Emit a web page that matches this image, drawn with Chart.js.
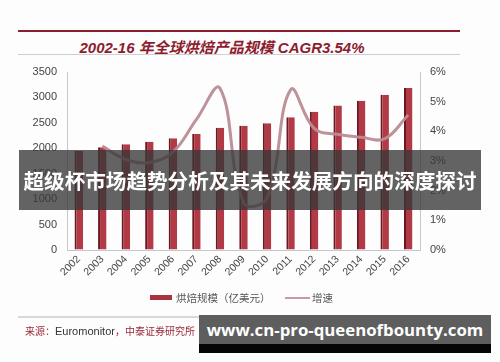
<!DOCTYPE html>
<html>
<head>
<meta charset="utf-8">
<script src="https://cdn.jsdelivr.net/npm/chart.js@4.4.1/dist/chart.umd.min.js"></script>
<style>
  html, body { margin: 0; padding: 0; background: #fff; }
  #page { position: relative; width: 500px; height: 362px; overflow: hidden; background: #fdfdfd; font-family: "Liberation Sans", "Noto Sans CJK SC", sans-serif; }
  #chartWrap { position: absolute; left: 0; top: 0; width: 500px; height: 362px; }
  .rule { position: absolute; left: 18px; width: 442px; }
  #title { position: absolute; left: 0; width: 444px; top: 36px; text-align: center; font: italic bold 15px "Liberation Sans", "Noto Sans CJK SC", sans-serif; color: #8c1c2e; white-space: nowrap; }
  #legend { position: absolute; top: 290px; left: 150px; font: 10.5px "Noto Sans CJK SC", sans-serif; color: #555; white-space: nowrap; }
  #legend span { position: absolute; top: 0; }
  #source { position: absolute; left: 25px; top: 323px; font: 10px "Noto Sans CJK SC", sans-serif; color: #9a2a3a; white-space: nowrap; }
  #source b { font: 11px "Liberation Sans", sans-serif; color: #333; font-weight: normal; }
  #banner { position: absolute; left: 19px; top: 150px; width: 462px; height: 60px; background: rgba(55, 55, 55, 0.78); color: #fff; font: bold 20.6px "Noto Sans CJK SC", sans-serif; text-align: center; line-height: 60px; white-space: nowrap; }
  #mark { position: absolute; left: 199px; top: 315px; width: 292px; height: 29px; background: #5e5e5e; color: #fff; font: bold 16.8px "Open Sans", "DejaVu Sans", sans-serif; text-align: center; line-height: 29px; white-space: nowrap; }
  #markBase { position: absolute; left: 199px; top: 344px; width: 292px; height: 9px; background: #050505; }
</style>
</head>
<body>
<div id="page">
  <div class="rule" style="top:30px;height:2px;background:#8c1c2e;"></div>
  <div id="title">2002-16 年全球烘焙产品规模 CAGR3.54%</div>
  <div class="rule" style="top:54px;height:1px;background:#cfcfcf;"></div>
  <div id="chartWrap"><canvas id="chart" width="500" height="362"></canvas></div>
  <div id="legend">
    <span style="left:0;top:5px;width:22px;height:5px;background:#a8323e;"></span>
    <span style="left:26px;">烘焙规模（亿美元）</span>
    <span style="left:135px;top:7px;width:25px;height:2px;background:#c99aa4;"></span>
    <span style="left:162px;">增速</span>
  </div>
  <div class="rule" style="top:316px;width:385px;height:2px;background:#d8d8d8;"></div>
  <div id="source">来源：<b>Euromonitor</b>，中泰证券研究所</div>
  <div id="banner">超级杯市场趋势分析及其未来发展方向的深度探讨</div>
  <div id="mark">www.cn-pro-queenofbounty.com</div>
  <div id="markBase"></div>
</div>
<script>
// data
const years = ["2002", "2003", "2004", "2005", "2006", "2007", "2008", "2009",
  "2010", "2011", "2012", "2013", "2014", "2015", "2016"];
const marketSize = [1950, 2020, 2080, 2130, 2195, 2280, 2405, 2445,
  2490, 2610, 2720, 2840, 2935, 3055, 3185];
const growth = [null, 3.5, 3.05, 2.95, 3.3, 4.4, 5.45, 1.6,
  1.75, 5.4, 4.1, 3.9, 3.8, 3.75, 4.55];
const leftTicks = [0, 500, 1000, 1500, 2000, 2500, 3000, 3500];
const rightTicks = [0, 1, 2, 3, 4, 5, 6];

const tickFont = { family: "Liberation Sans", size: 11 };
const tickColor = "#444";

new Chart(document.getElementById("chart"), {
  data: {
    labels: years,
    datasets: [
      {
        type: "line",
        label: "增速",
        data: growth,
        yAxisID: "y2",
        borderColor: "rgba(185, 140, 150, 0.95)",
        borderWidth: 3,
        tension: 0.4,
        pointRadius: 0,
        fill: false,
        order: 0,
      },
      {
        type: "bar",
        label: "烘焙规模（亿美元）",
        data: marketSize,
        yAxisID: "y",
        backgroundColor: "#b13a46",
        borderColor: "#6c1820",
        borderWidth: { left: 2, right: 0, top: 0, bottom: 0 },
        borderSkipped: false,
        categoryPercentage: 1,
        barPercentage: 0.36,
        order: 1,
      },
    ],
  },
  options: {
    responsive: false,
    animation: false,
    layout: { padding: { top: 72, left: 0, right: 0, bottom: 0 } },
    plugins: { legend: { display: false }, tooltip: { enabled: false } },
    scales: {
      x: {
        grid: { display: false, drawTicks: false },
        border: { color: "#c8c8c8" },
        ticks: { color: tickColor, font: { family: "Liberation Sans", size: 10.5 }, minRotation: 45, maxRotation: 45, padding: 3 },
        afterFit: (s) => { s.height = 112; },
      },
      y: {
        position: "left",
        min: 0,
        max: 3500,
        afterBuildTicks: (s) => { s.ticks = leftTicks.map((v) => ({ value: v })); },
        grid: { drawOnChartArea: false, drawTicks: false },
        border: { color: "#c8c8c8" },
        ticks: { color: tickColor, font: tickFont, padding: 10, callback: (v) => String(v) },
        afterFit: (s) => { s.width = 67; },
      },
      y2: {
        position: "right",
        min: 0,
        max: 6,
        afterBuildTicks: (s) => { s.ticks = rightTicks.map((v) => ({ value: v })); },
        grid: { drawOnChartArea: false, drawTicks: false },
        border: { color: "#c8c8c8" },
        ticks: { color: tickColor, font: tickFont, padding: 10, callback: (v) => v + "%" },
        afterFit: (s) => { s.width = 80; },
      },
    },
  },
});
</script>
</body>
</html>
